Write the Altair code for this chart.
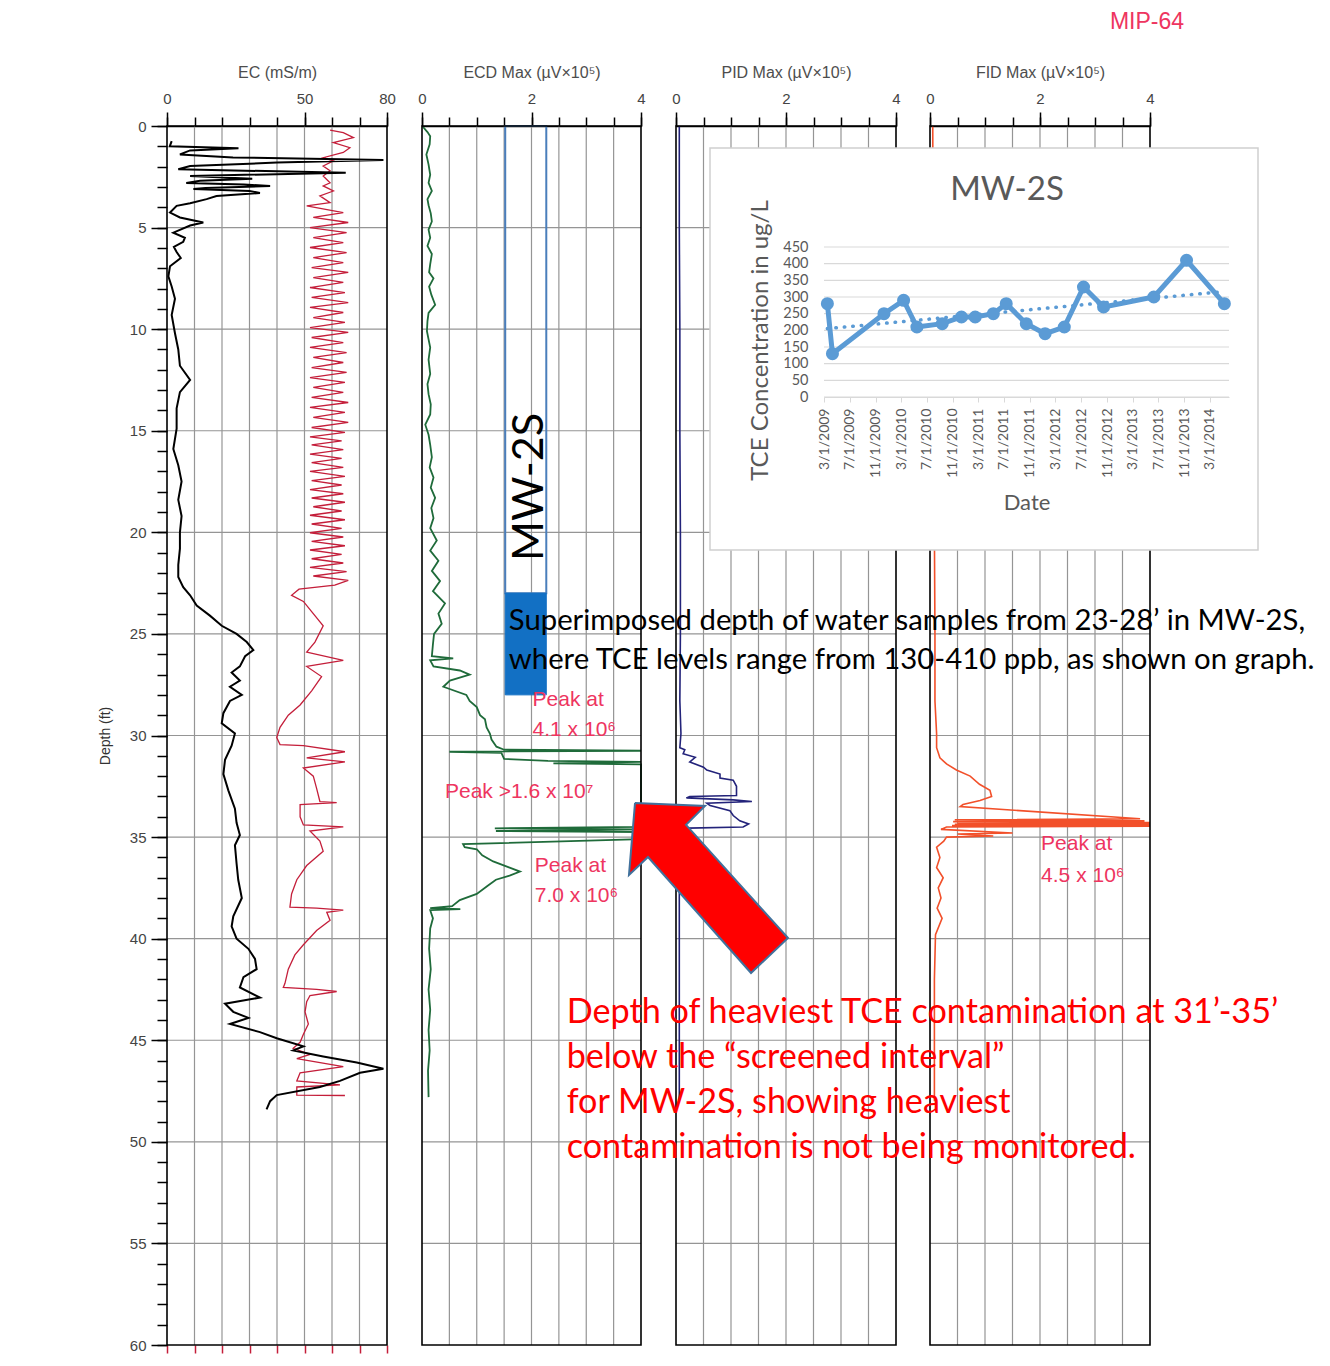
import altair as alt
import pandas as pd

# ===================== DATA =====================
# EC log, black trace: (depth ft, EC mS/m)
ec_log = [
    (0.74, 1.7), (1.0, 1.0), (1.1, 26.0), (1.2, 8.4), (1.4, 4.7), (1.55, 24.0), (1.67, 78.7),
    (1.8, 40.0), (1.97, 8.4), (2.13, 4.1), (2.3, 65.0), (2.46, 8.4), (2.6, 31.0), (2.7, 12.0),
    (2.8, 7.0), (2.88, 28.0), (2.95, 37.5), (3.05, 14.0), (3.1, 9.6), (3.2, 30.0), (3.3, 33.8),
    (3.45, 18.0), (3.6, 14.4), (3.8, 8.4), (3.93, 3.5), (4.26, 1.1), (4.5, 4.7), (4.75, 13.2),
    (4.9, 8.4), (5.25, 2.3), (5.5, 6.5), (5.7, 5.9), (5.95, 2.5), (6.2, 3.5), (6.5, 5.0),
    (6.9, 1.1), (7.4, 0.5), (7.9, 1.7), (8.5, 2.9), (9.3, 1.7), (10.2, 2.9), (11.0, 4.1),
    (11.8, 4.7), (12.5, 8.4), (13.1, 4.7), (13.9, 3.5), (14.9, 3.5), (15.9, 2.3), (16.7, 4.1),
    (17.5, 5.3), (18.4, 4.1), (19.2, 5.3), (20.0, 4.7), (20.8, 4.7), (21.6, 4.1), (22.2, 4.1),
    (22.7, 5.9), (23.1, 8.4), (23.6, 10.8), (24.1, 15.6), (24.6, 19.9), (25.0, 25.3),
    (25.4, 29.0), (25.8, 31.4), (26.1, 28.4), (26.6, 26.5), (26.9, 23.5), (27.3, 26.5),
    (27.6, 22.9), (28.0, 27.2), (28.3, 22.9), (28.9, 20.5), (29.4, 19.9), (29.9, 24.7),
    (30.5, 23.5), (31.2, 21.1), (31.9, 20.5), (32.7, 22.3), (33.6, 24.7), (34.3, 25.3),
    (34.9, 26.5), (35.4, 24.7), (36.3, 25.3), (37.1, 25.9), (38.0, 27.2), (38.9, 24.1),
    (39.4, 23.5), (40.0, 25.3), (40.5, 29.6), (41.0, 32.0), (41.5, 32.6), (41.9, 27.8),
    (42.4, 26.5), (42.9, 33.8), (43.2, 21.1), (43.6, 24.1), (43.9, 29.6), (44.2, 22.9),
    (44.6, 33.8), (44.9, 39.9), (45.3, 49.6), (45.5, 45.9), (45.8, 56.8), (46.1, 69.0),
    (46.4, 78.7), (46.6, 70.2), (47.0, 62.9), (47.3, 55.6), (47.7, 39.9), (48.0, 37.5),
    (48.4, 36.2),
]

# second (red) trace drawn on the EC axis
ec_red_log = [
    (0.2, 59.3), (0.33, 64.1), (0.57, 67.8), (0.82, 60.5), (1.07, 66.5), (1.3, 64.1),
    (1.56, 56.8), (1.72, 60.5), (1.97, 56.8), (2.2, 59.3), (2.46, 56.8), (2.8, 59.3),
    (2.95, 56.8), (3.2, 60.5), (3.44, 55.6), (3.77, 59.3), (3.93, 50.8), (4.26, 64.1),
    (4.5, 53.2), (4.75, 65.9), (5.0, 52.0), (5.25, 65.3), (5.49, 53.2), (5.74, 64.1),
    (5.98, 52.0), (6.23, 65.3), (6.48, 53.2), (6.72, 64.1), (6.97, 52.6), (7.2, 65.9),
    (7.46, 53.2), (7.7, 64.1), (7.95, 52.0), (8.2, 64.7), (8.44, 52.6), (8.69, 65.9),
    (8.93, 52.0), (9.18, 64.1), (9.43, 53.2), (9.67, 64.7), (9.92, 52.0), (10.16, 65.9),
    (10.41, 52.6), (10.66, 64.1), (10.9, 52.0), (11.15, 65.3), (11.39, 53.2), (11.64, 64.1),
    (11.89, 52.6), (12.13, 65.3), (12.38, 52.0), (12.62, 64.7), (12.87, 53.2), (13.11, 64.1),
    (13.36, 52.6), (13.61, 65.9), (13.85, 52.0), (14.1, 64.7), (14.34, 53.2), (14.59, 65.9),
    (14.84, 52.6), (15.08, 64.7), (15.3, 52.0), (15.5, 63.5), (15.7, 52.6), (15.93, 64.1),
    (16.15, 52.0), (16.36, 63.5), (16.57, 52.6), (16.8, 64.1), (17.0, 52.0), (17.25, 64.7),
    (17.46, 52.6), (17.67, 63.5), (17.9, 52.0), (18.1, 64.1), (18.31, 52.6), (18.52, 64.7),
    (18.74, 53.2), (18.95, 63.5), (19.16, 52.0), (19.38, 64.7), (19.59, 52.6), (19.8, 63.5),
    (20.02, 52.0), (20.23, 64.1), (20.44, 52.6), (20.66, 64.7), (20.87, 52.0), (21.08, 63.5),
    (21.3, 52.6), (21.51, 64.1), (21.72, 52.0), (21.93, 65.3), (22.15, 53.2), (22.36, 65.9),
    (22.6, 61.0), (22.8, 48.0), (23.1, 45.3), (23.4, 49.6), (23.9, 52.6), (24.6, 56.8),
    (25.4, 53.8), (25.9, 50.8), (26.3, 64.1), (26.6, 50.8), (27.1, 56.2), (27.8, 52.6),
    (28.5, 48.4), (29.0, 44.1), (29.6, 41.1), (30.1, 39.9), (30.45, 41.1), (30.5, 49.6),
    (30.8, 64.7), (31.1, 50.8), (31.3, 64.7), (31.6, 49.6), (32.0, 53.2), (32.6, 54.4),
    (33.25, 55.6), (33.3, 61.7), (33.4, 48.4), (34.0, 48.4), (34.4, 49.6), (34.5, 64.1),
    (34.7, 52.0), (35.2, 55.6), (35.7, 56.8), (36.4, 50.8), (37.1, 47.2), (37.8, 45.3),
    (38.45, 44.7), (38.5, 54.4), (38.6, 64.1), (38.7, 58.1), (39.1, 59.3), (39.6, 54.4),
    (40.3, 49.6), (40.8, 46.5), (41.5, 44.1), (42.2, 42.9), (42.4, 42.3), (42.5, 54.4),
    (42.6, 61.7), (42.8, 52.0), (43.1, 50.8), (43.6, 50.2), (44.2, 51.4), (44.7, 49.6),
    (45.1, 48.4), (45.4, 45.9), (45.7, 52.0), (45.9, 47.2), (46.3, 64.1), (46.6, 48.4),
    (47.0, 47.2), (47.2, 62.9), (47.3, 47.2), (47.7, 47.2), (47.72, 64.7),
]

# ECD Max (uV x 10^5); values above 4 run off the scale (peaks 4.1e6, >1.6e7, 7.0e6)
ecd_log = [
    (0.05, 0.02), (0.3, 0.10), (0.5, 0.15), (0.9, 0.14), (1.4, 0.08), (1.9, 0.12), (2.4, 0.15),
    (2.8, 0.12), (3.2, 0.18), (3.6, 0.10), (3.9, 0.12), (4.3, 0.16), (4.7, 0.18), (5.1, 0.12),
    (5.5, 0.15), (5.9, 0.10), (6.3, 0.18), (6.8, 0.15), (7.2, 0.13), (7.5, 0.21), (7.9, 0.13),
    (8.3, 0.17), (8.8, 0.24), (9.2, 0.12), (9.6, 0.10), (10.1, 0.09), (10.5, 0.12), (10.9, 0.15),
    (11.5, 0.12), (12.2, 0.15), (12.7, 0.10), (13.2, 0.12), (13.7, 0.16), (14.2, 0.15),
    (14.7, 0.06), (15.2, 0.12), (15.7, 0.15), (16.3, 0.18), (16.8, 0.14), (17.3, 0.21),
    (17.8, 0.16), (18.3, 0.24), (18.8, 0.17), (19.3, 0.21), (19.8, 0.15), (20.4, 0.27),
    (20.9, 0.15), (21.4, 0.30), (21.9, 0.18), (22.4, 0.33), (22.9, 0.20), (23.5, 0.42),
    (24.0, 0.30), (24.5, 0.36), (25.0, 0.22), (25.5, 0.20), (26.1, 0.18), (26.2, 0.57),
    (26.3, 0.15), (26.6, 0.21), (26.8, 0.69), (27.0, 0.87), (27.3, 0.51), (27.6, 0.39),
    (28.0, 0.81), (28.3, 0.87), (28.6, 1.00), (29.0, 1.06), (29.2, 1.15), (29.6, 1.18),
    (29.9, 1.24), (30.2, 1.27), (30.55, 1.36), (30.7, 1.50), (30.75, 41.0), (30.8, 0.50),
    (30.85, 1.45), (31.15, 1.50), (31.25, 2.30), (31.3, 30.0), (31.37, 2.40), (31.42, 35.0),
    (31.5, 60.0), (32.5, 160.0), (33.5, 130.0), (34.5, 70.0), (34.57, 1.33), (34.62, 20.0),
    (34.7, 1.35), (34.75, 60.0), (35.1, 20.0), (35.35, 0.75), (35.5, 0.78), (35.6, 1.00),
    (35.9, 1.10), (36.2, 1.30), (36.5, 1.60), (36.7, 1.79), (36.9, 1.60), (37.1, 1.35),
    (37.4, 1.20), (37.8, 1.00), (38.1, 0.69), (38.4, 0.55), (38.5, 0.15), (38.55, 0.70),
    (38.6, 0.15), (39.0, 0.20), (39.5, 0.15), (40.5, 0.13), (41.5, 0.16), (42.5, 0.12),
    (43.5, 0.15), (44.5, 0.12), (45.5, 0.14), (46.5, 0.11), (47.8, 0.12),
]

# PID Max (uV x 10^5)
pid_log = [
    (0.0, 0.06), (5.0, 0.06), (10.0, 0.07), (15.0, 0.07), (20.0, 0.08), (25.0, 0.08),
    (28.3, 0.07), (29.9, 0.09), (30.6, 0.07), (30.7, 0.16), (30.9, 0.13), (31.07, 0.35),
    (31.3, 0.25), (31.56, 0.50), (31.7, 0.56), (31.9, 0.80), (32.1, 0.80), (32.2, 1.04),
    (32.5, 1.10), (32.95, 1.10), (33.0, 0.25), (33.07, 0.19), (33.17, 1.04), (33.25, 1.38),
    (33.33, 0.56), (33.45, 0.62), (33.7, 0.98), (33.94, 1.04), (34.2, 1.16), (34.35, 1.32),
    (34.5, 1.22), (34.56, 0.22), (34.67, 0.13), (35.0, 0.07), (38.0, 0.06), (42.0, 0.06),
    (48.0, 0.06),
]

# FID Max (uV x 10^5); peak 4.5e6 runs off the scale
fid_log = [
    (0.0, 0.05), (10.0, 0.06), (20.0, 0.08), (25.0, 0.09), (28.3, 0.09), (29.9, 0.12),
    (30.6, 0.12), (31.1, 0.18), (31.4, 0.30), (31.7, 0.48), (32.0, 0.73), (32.4, 0.90),
    (32.7, 1.09), (33.0, 1.12), (33.2, 0.91), (33.4, 0.60), (33.5, 0.55), (34.1, 3.82),
    (34.15, 0.45), (34.2, 3.90), (34.24, 0.42), (34.28, 45.0), (34.31, 0.50), (34.34, 45.0),
    (34.37, 0.45), (34.4, 45.0), (34.43, 0.40), (34.46, 45.0), (34.5, 0.30), (34.62, 0.20),
    (34.8, 1.50), (34.85, 0.50), (34.95, 1.15), (35.0, 0.30), (35.2, 0.25), (35.5, 0.12),
    (36.0, 0.18), (36.5, 0.12), (37.0, 0.24), (37.5, 0.15), (38.0, 0.20), (38.5, 0.13),
    (39.0, 0.22), (39.8, 0.10), (42.0, 0.08), (45.0, 0.08), (48.0, 0.08),
]

# MW-2S TCE concentration (ug/L)
tce_dates = ["2009-03-17", "2009-04-10", "2009-12-10", "2010-03-13", "2010-05-15",
             "2010-09-12", "2010-12-12", "2011-02-15", "2011-05-12", "2011-07-12",
             "2011-10-15", "2012-01-12", "2012-04-12", "2012-07-12", "2012-10-15",
             "2013-06-10", "2013-11-12", "2014-05-10"]
tce_values = [280, 130, 250, 290, 210, 220, 240, 240, 250, 280, 220, 190, 210, 330, 270,
              300, 410, 280]

# screened interval / sampled depth of MW-2S (ft)
screen_top, sample_top, sample_bottom = 0, 23, 28

# axis ticks
ec_ticks = [0, 10, 20, 30, 40, 50, 60, 70, 80]
ec_labels = [0, 50, 80]
log_ticks = [0, 0.5, 1, 1.5, 2, 2.5, 3, 3.5, 4]
log_labels = [0, 2, 4]
depth_ticks = list(range(0, 61))
depth_labels = list(range(0, 61, 5))
depth_grid = list(range(5, 60, 5))
conc_ticks = [0, 50, 100, 150, 200, 250, 300, 350, 400, 450]
date_ticks = [(2009, 3), (2009, 7), (2009, 11), (2010, 3), (2010, 7), (2010, 11),
              (2011, 3), (2011, 7), (2011, 11), (2012, 3), (2012, 7), (2012, 11),
              (2013, 3), (2013, 7), (2013, 11), (2014, 3)]

# ===================== LAYOUT / STYLE =====================
W, H = 1314, 1350
Y_RANGE = [118, 1337]
PANELS = {
    "EC": ([0, 80], [159, 379]),
    "ECD": ([0, 4], [414, 633]),
    "PID": ([0, 4], [668, 888]),
    "FID": ([0, 4], [922, 1142]),
}
AXIS_FONT = "Liberation Sans"
NOTE_FONT = "Lato"
GRID = "#959595"
PEAK_RED = "#EE3560"


def xs(p, clamp=False):
    dom, rng = PANELS[p]
    return alt.Scale(domain=dom, range=rng, clamp=clamp, nice=False, zero=False)


def ys():
    return alt.Scale(domain=[0, 60], range=Y_RANGE, nice=False, zero=False)


def major_top(values, title):
    return alt.Axis(orient="top", offset=-118, values=values, tickSize=14, tickWidth=1.5,
                    tickColor="black", domain=True, domainColor="black", domainWidth=1.5,
                    labelFont=AXIS_FONT, labelFontSize=15, labelColor="#444444",
                    labelPadding=6, labelOverlap=False, labelFlush=False, title=title,
                    titleFont=AXIS_FONT, titleFontSize=16, titleFontWeight="normal",
                    titleColor="#4d4d4d", titlePadding=11, grid=False)


def minor_top(values):
    return alt.Axis(orient="top", offset=-118, values=values, tickSize=9, tickWidth=1.5,
                    tickColor="black", domain=False, labels=False, title="", grid=False)


depth_major = alt.Axis(orient="left", offset=-159, values=depth_labels, tickSize=16,
                       tickWidth=1.5, tickColor="black", domain=False, labelFont=AXIS_FONT,
                       labelFontSize=15, labelColor="#444444", labelPadding=5,
                       labelOverlap=False, labelFlush=False, title="Depth (ft)",
                       titleFont=AXIS_FONT, titleFontSize=14, titleFontWeight="normal",
                       titleColor="#333333", titlePadding=17, grid=False)
depth_minor = alt.Axis(orient="left", offset=-159, values=depth_ticks, tickSize=10,
                       tickWidth=1.5, tickColor="black", domain=False, labels=False,
                       title="", grid=False)
red_bottom = alt.Axis(orient="bottom", offset=-13, values=ec_ticks, tickSize=8, tickWidth=1.5,
                      tickColor="#C41E3A", domain=False, labels=False, title="", grid=False)

layers = []

# ---- grids ----
for p, ticks in [("EC", ec_ticks), ("ECD", log_ticks), ("PID", log_ticks), ("FID", log_ticks)]:
    inner = pd.DataFrame({"v": ticks[1:-1]})
    layers.append(
        alt.Chart(inner).mark_rule(color=GRID, strokeWidth=1.2).encode(
            x=alt.X("v:Q", scale=xs(p), axis=minor_top(ticks)),
            y=alt.YDatum(0, scale=ys(), axis=None),
            y2=alt.Y2Datum(60),
        )
    )
    dom = PANELS[p][0]
    hg = pd.DataFrame({"d": depth_grid})
    layers.append(
        alt.Chart(hg).mark_rule(color=GRID, strokeWidth=1.2).encode(
            y=alt.Y("d:Q", scale=ys(), axis=depth_minor if p == "EC" else None),
            x=alt.XDatum(dom[0], scale=xs(p), axis=None),
            x2=alt.X2Datum(dom[1]),
        )
    )

# ---- MW-2S screened interval box ----
box = pd.DataFrame({"x0": [1.52], "x1": [2.27], "d0": [screen_top], "d1": [sample_top]})
layers.append(
    alt.Chart(box).mark_rect(fill="transparent", stroke="#4A7EBB", strokeWidth=2).encode(
        x=alt.X("x0:Q", scale=xs("ECD"), axis=None), x2="x1:Q",
        y=alt.Y("d0:Q", scale=ys(), axis=None), y2="d1:Q")
)
samp = pd.DataFrame({"x0": [1.52], "x1": [2.27], "d0": [sample_top], "d1": [sample_bottom]})
layers.append(
    alt.Chart(samp).mark_rect(fill="#1270C4", stroke="#1270C4", strokeWidth=1).encode(
        x=alt.X("x0:Q", scale=xs("ECD"), axis=None), x2="x1:Q",
        y=alt.Y("d0:Q", scale=ys(), axis=None), y2="d1:Q")
)


# ---- log curves ----
def curve(log, panel, color, width, clamp=False, axis=None):
    df = pd.DataFrame(log, columns=["d", "v"])
    return alt.Chart(df).mark_line(color=color, strokeWidth=width).encode(
        x=alt.X("v:Q", scale=xs(panel, clamp), axis=axis),
        y=alt.Y("d:Q", scale=ys(), axis=None),
        order=alt.Order("d:Q"),
    )


layers.append(curve(ec_red_log, "EC", "#C41E3A", 1.3, axis=red_bottom))
layers.append(curve(ec_log, "EC", "#000000", 2.0))
layers.append(curve(ecd_log, "ECD", "#1F6B3A", 1.8, clamp=True))
layers.append(curve(pid_log, "PID", "#23237A", 1.6, clamp=True))
layers.append(curve(fid_log, "FID", "#F2502A", 1.6, clamp=True))

# ---- panel frames with top axes ----
titles = {"EC": "EC (mS/m)", "ECD": "ECD Max (\u00b5V\u00d710\u2075)",
          "PID": "PID Max (\u00b5V\u00d710\u2075)", "FID": "FID Max (\u00b5V\u00d710\u2075)"}
for p, labs in [("EC", ec_labels), ("ECD", log_labels), ("PID", log_labels), ("FID", log_labels)]:
    dom = PANELS[p][0]
    fr = pd.DataFrame({"lo": [dom[0]], "hi": [dom[1]], "d0": [0], "d1": [60]})
    layers.append(
        alt.Chart(fr).mark_rect(fill="transparent", stroke="black", strokeWidth=1.6).encode(
            x=alt.X("lo:Q", scale=xs(p), axis=major_top(labs, titles[p])), x2="hi:Q",
            y=alt.Y("d0:Q", scale=ys(), axis=depth_major if p == "EC" else None), y2="d1:Q")
    )


# ---- text notes placed in log coordinates ----
def note(texts, depths, panel, xval, font, size, color, align="left", angle=0):
    df = pd.DataFrame({"t": texts, "d": depths})
    return alt.Chart(df).mark_text(align=align, baseline="middle", font=font, fontSize=size,
                                   color=color, angle=angle).encode(
        x=alt.XDatum(xval, scale=xs(panel), axis=None),
        y=alt.Y("d:Q", scale=ys(), axis=None),
        text="t:N",
    )


layers.append(note(["Peak at", "4.1 x 10\u2076"], [28.25, 29.73], "ECD", 2.02, AXIS_FONT, 21, PEAK_RED))
layers.append(note(["Peak >1.6 x 10\u2077"], [32.78], "ECD", 0.42, AXIS_FONT, 21, PEAK_RED))
layers.append(note(["Peak at", "7.0 x 10\u2076"], [36.42, 37.9], "ECD", 2.06, AXIS_FONT, 21, PEAK_RED))
layers.append(note(["Peak at", "4.5 x 10\u2076"], [35.34, 36.92], "FID", 2.02, AXIS_FONT, 21, PEAK_RED))
layers.append(note(["MIP-64"], [-5.1], "FID", 3.945, AXIS_FONT, 23, PEAK_RED, align="center"))

# ---- inset chart: MW-2S ----
frame = pd.DataFrame({"k": [1]})
layers.append(
    alt.Chart(frame).mark_rect(fill="white", stroke="#D0D0D0", strokeWidth=1.5).encode(
        x=alt.value(702), x2=alt.value(1250), y=alt.value(140), y2=alt.value(542))
)


def dt(y, m, d=1):
    return alt.DateTime(year=y, month=m, date=d, utc=True)


ix = alt.Scale(type="utc", domain=[dt(2009, 3), dt(2014, 6)], range=[816, 1221])
iy = alt.Scale(domain=[0, 450], range=[389, 239], nice=False, zero=False)

inset_xaxis = alt.Axis(orient="bottom", offset=389 - H, values=[dt(y, m) for y, m in date_ticks],
                       labelExpr="utcFormat(datum.value, '%-m/%-d/%Y')", labelAngle=270,
                       tickSize=5, tickColor="#D9D9D9", domainColor="#D9D9D9", domainWidth=1,
                       labelFont=NOTE_FONT, labelFontSize=14, labelColor="#595959",
                       labelPadding=6, labelOverlap=False, labelFlush=False, title="Date",
                       titleFont=NOTE_FONT, titleFontSize=22, titleFontWeight="normal",
                       titleColor="#595959", titlePadding=15, grid=False, zindex=2)
inset_yaxis = alt.Axis(orient="left", offset=-816, values=conc_ticks, ticks=False, tickSize=0,
                       domain=False, labelFont=NOTE_FONT, labelFontSize=14.5,
                       labelColor="#595959", labelPadding=16, labelOverlap=False,
                       labelFlush=False, title="TCE Concentration in ug/L",
                       titleFont=NOTE_FONT, titleFontSize=24, titleFontWeight="normal",
                       titleColor="#595959", titleX=-64, titleY=332, titleAngle=270,
                       titleAlign="center", titleBaseline="middle", grid=False, zindex=2)

igrid = pd.DataFrame({"c": conc_ticks, "t0": ["2009-03-01"] * len(conc_ticks),
                      "t1": ["2014-06-01"] * len(conc_ticks)})
layers.append(
    alt.Chart(igrid).mark_rule(color="#D9D9D9", strokeWidth=1.2).encode(
        x=alt.X("t0:T", scale=ix, axis=inset_xaxis), x2="t1:T",
        y=alt.Y("c:Q", scale=iy, axis=inset_yaxis))
)

tce = pd.DataFrame({"date": tce_dates, "conc": tce_values})
layers.append(
    alt.Chart(tce).transform_calculate(t="time(toDate(datum.date))")
    .transform_regression("t", "conc")
    .mark_line(color="#5B9BD5", strokeWidth=3.5, strokeDash=[0.5, 8], strokeCap="round")
    .encode(x=alt.X("t:T", scale=ix, axis=None), y=alt.Y("conc:Q", scale=iy, axis=None))
)
layers.append(
    alt.Chart(tce).mark_line(color="#5B9BD5", strokeWidth=5).encode(
        x=alt.X("date:T", scale=ix, axis=None), y=alt.Y("conc:Q", scale=iy, axis=None))
)
layers.append(
    alt.Chart(tce).mark_circle(color="#5B9BD5", size=170, opacity=1).encode(
        x=alt.X("date:T", scale=ix, axis=None), y=alt.Y("conc:Q", scale=iy, axis=None))
)
layers.append(
    alt.Chart(pd.DataFrame({"t": ["MW-2S"]})).mark_text(
        font=NOTE_FONT, fontSize=33, color="#595959", align="center", baseline="middle").encode(
        text="t:N", x=alt.value(999), y=alt.value(182))
)

# ---- annotations ----
layers.append(note(["MW-2S"], [17.77], "ECD", 1.968, NOTE_FONT, 43, "black", align="center", angle=270))
layers.append(note(["Superimposed depth of water samples from 23-28\u2019 in MW-2S,",
                    "where TCE levels range from 130-410 ppb, as shown on graph."],
                   [24.36, 26.28], "ECD", 1.585, NOTE_FONT, 29.3, "black"))

# red arrow (outline vertices in PID-axis units and depth)
arrow = pd.DataFrame({
    "i": [0, 1, 2, 3, 4, 5, 6, 7],
    "x": [-0.745, 0.527, 0.182, 2.036, 1.364, -0.509, -0.855, -0.745],
    "d": [33.32, 33.47, 34.40, 39.97, 41.69, 35.98, 36.87, 33.32],
})
layers.append(
    alt.Chart(arrow).mark_line(fill="#FF0000", stroke="#41719C", strokeWidth=2,
                               strokeJoin="miter").encode(
        x=alt.X("x:Q", scale=xs("PID"), axis=None),
        y=alt.Y("d:Q", scale=ys(), axis=None),
        order=alt.Order("i:Q"))
)

layers.append(note(["Depth of heaviest TCE contamination at 31\u2019-35\u2019",
                    "below the \u201cscreened interval\u201d",
                    "for MW-2S, showing heaviest",
                    "contamination is not being monitored."],
                   [43.66, 45.87, 48.09, 50.30], "ECD", 2.642, NOTE_FONT, 34.2, "#FF0000"))

chart = (
    alt.layer(*layers)
    .resolve_scale(x="independent", y="independent")
    .resolve_axis(x="independent", y="independent")
    .properties(width=W, height=H, padding=0, background="white",
                autosize=alt.AutoSizeParams(type="none"))
    .configure_view(strokeWidth=0)
)

chart.save("out.html", embed_options={"renderer": "svg", "actions": False})
